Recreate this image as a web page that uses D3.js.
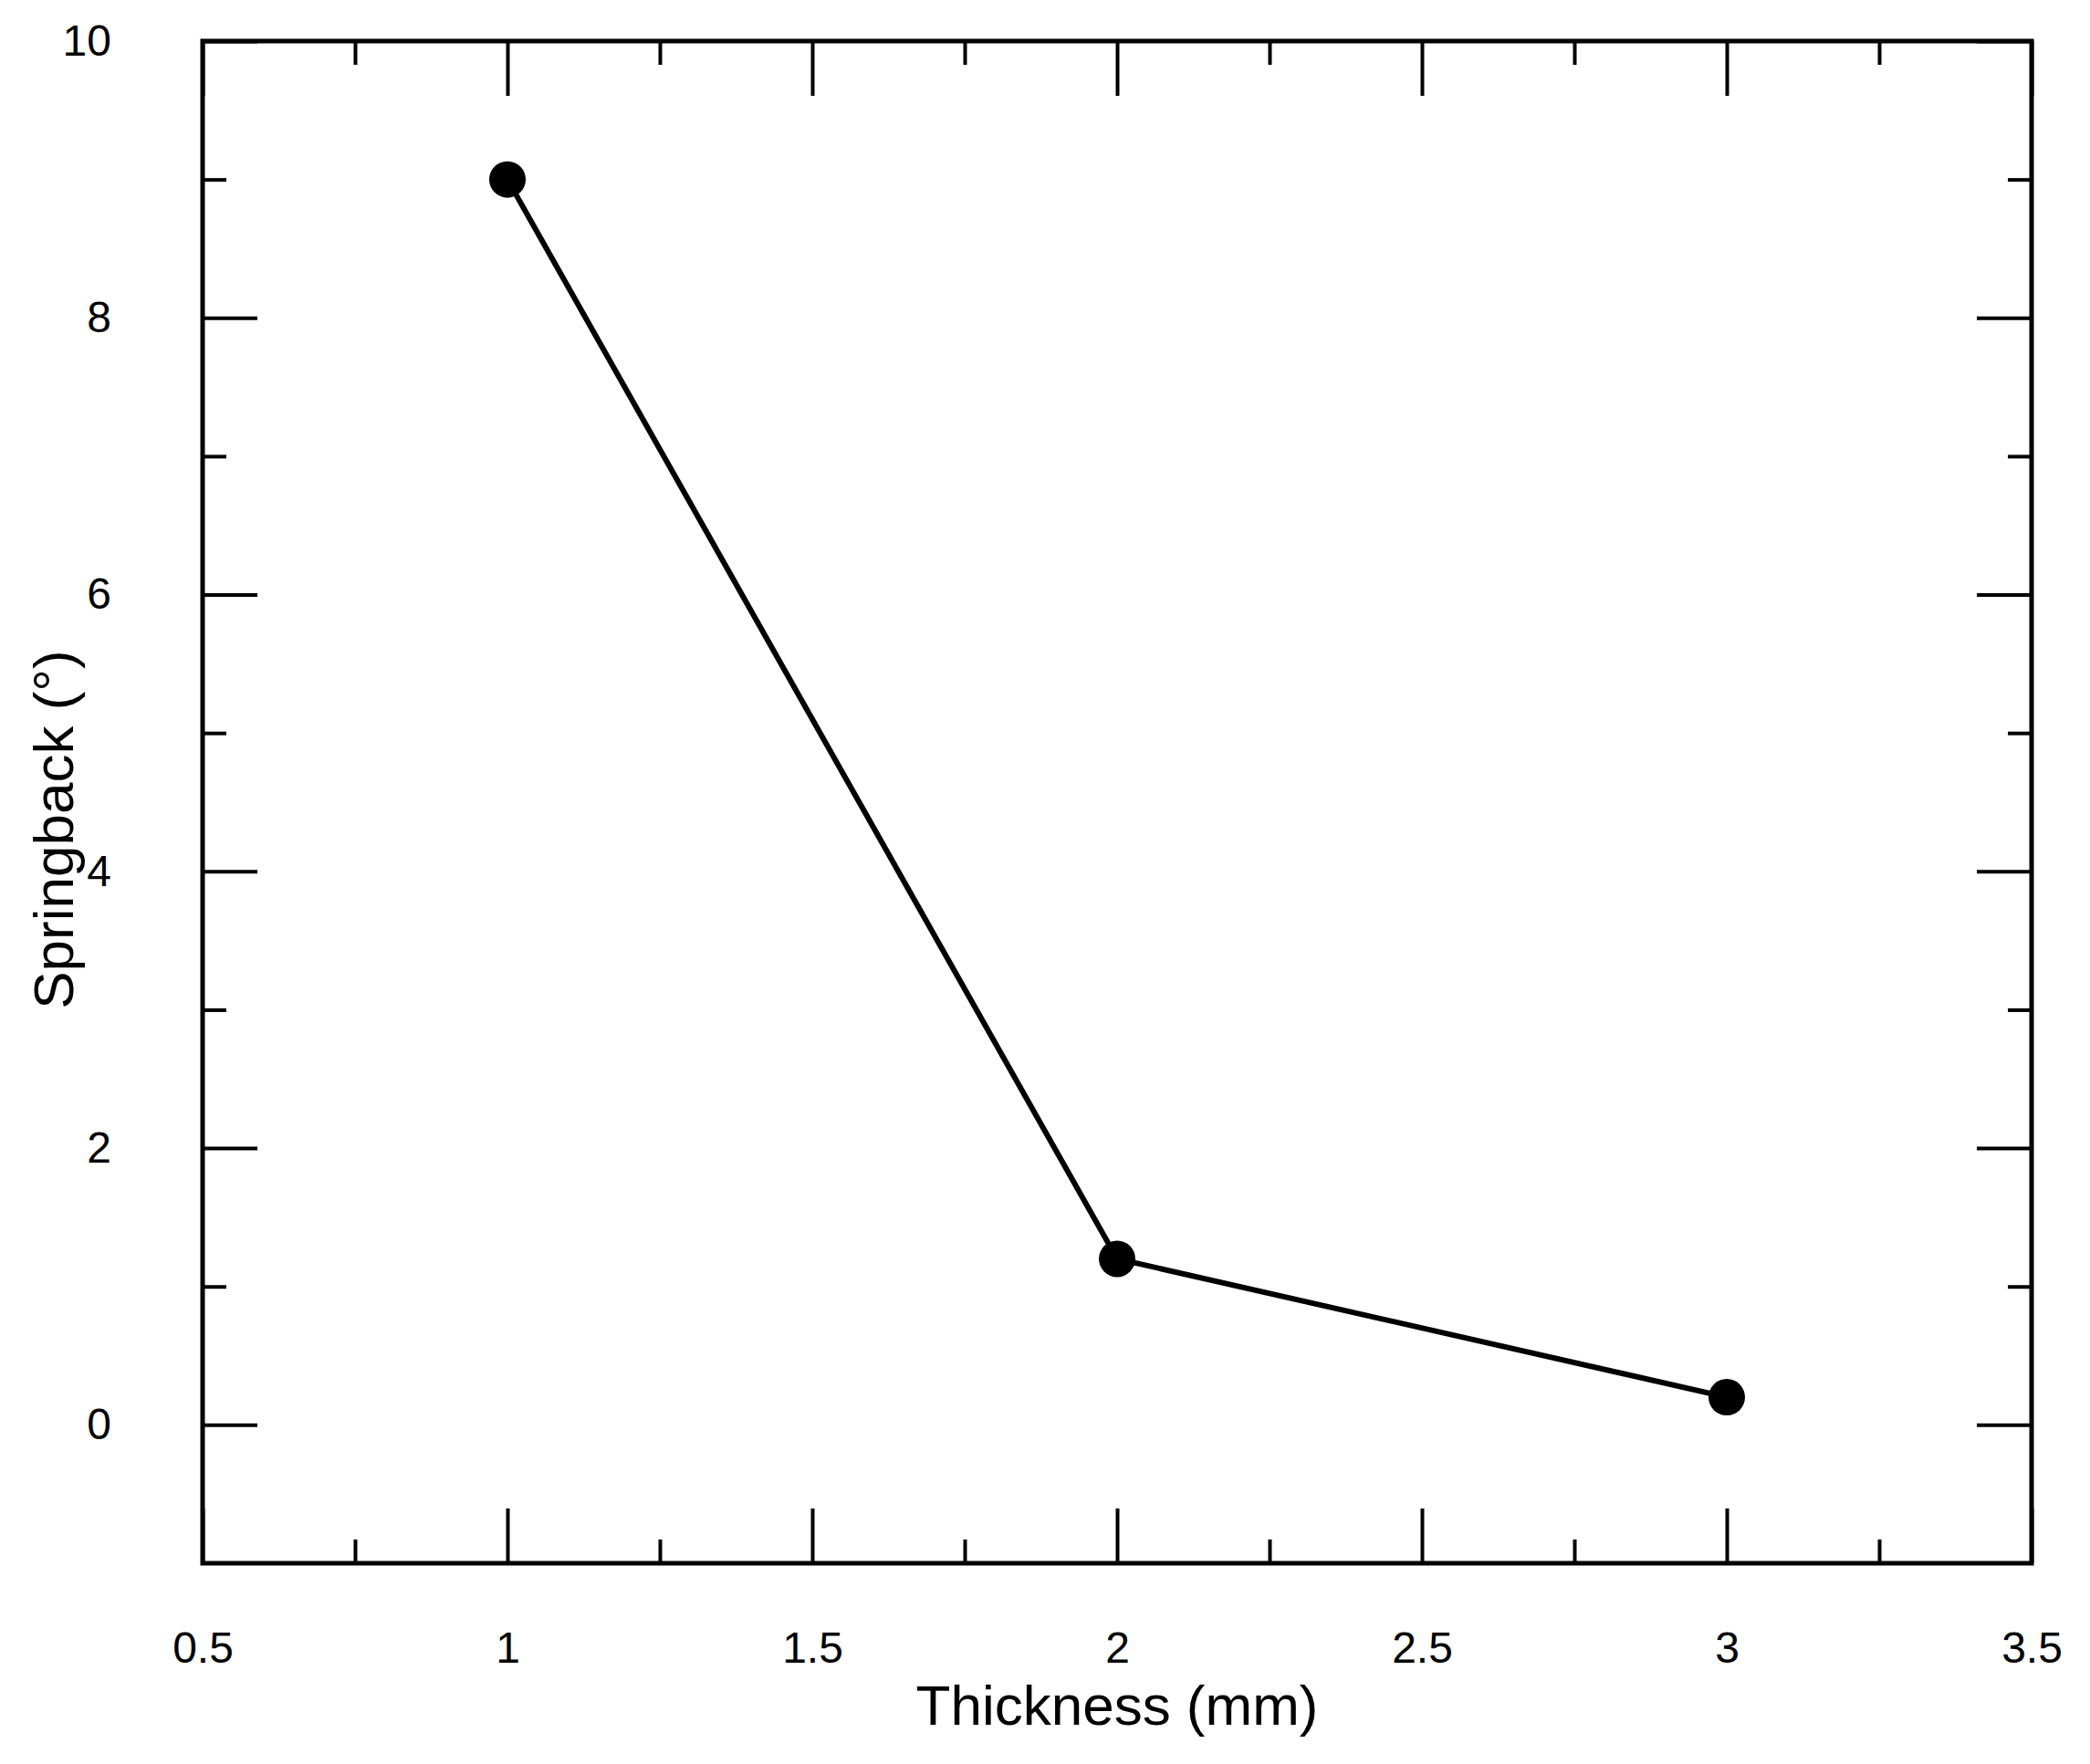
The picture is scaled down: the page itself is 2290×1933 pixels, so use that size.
<!DOCTYPE html>
<html>
<head>
<meta charset="utf-8">
<script src="https://cdn.jsdelivr.net/npm/d3@7"></script>
<style>
body { margin: 0; background: #fff; }
text { font-family: "Liberation Sans", Arial, sans-serif; fill: #000; }
</style>
</head>
<body>
<svg id="chart" width="2290" height="1933"></svg>
<script>
const thickness = [1, 2, 3];
const springback = [9, 1.2, 0.2];
const xTickLabels = [0.5, 1, 1.5, 2, 2.5, 3, 3.5];
const yTickLabels = [0, 2, 4, 6, 8, 10];

const margin = { top: 45, right: 2290 - 2226, bottom: 1933 - 1713, left: 222 };
const width = 2290 - margin.left - margin.right;
const height = 1933 - margin.top - margin.bottom;

const svg = d3.select('#chart');
const g = svg.append('g').attr('transform', `translate(${margin.left},${margin.top})`);

const x = d3.scaleLinear().domain([0.5, 3.5]).range([0, width]);
const y = d3.scaleLinear().domain([-1, 10]).range([height, 0]);

const fmt = d => String(d);
const xMinor = d3.range(0.75, 3.5, 0.5);
const yMinor = d3.range(1, 10, 2).concat([-1]).filter(v => v > -1);

const styleAxis = sel => {
    sel.select('.domain').remove();
    sel.selectAll('line').attr('stroke', '#000').attr('stroke-width', 4);
    sel.selectAll('text').style('font-size', '48px');
};

// bottom axis: ticks pointing inward
g.append('g').attr('transform', `translate(0,${height})`)
    .call(d3.axisBottom(x).tickValues(xTickLabels).tickFormat(fmt).tickSizeInner(-60).tickSizeOuter(0).tickPadding(75))
    .call(styleAxis);
g.append('g').attr('transform', `translate(0,${height})`)
    .call(d3.axisBottom(x).tickValues(xMinor).tickFormat('').tickSizeInner(-26).tickSizeOuter(0))
    .call(styleAxis);
// top axis
g.append('g')
    .call(d3.axisTop(x).tickValues(xTickLabels).tickFormat('').tickSizeInner(-60).tickSizeOuter(0))
    .call(styleAxis);
g.append('g')
    .call(d3.axisTop(x).tickValues(xMinor).tickFormat('').tickSizeInner(-26).tickSizeOuter(0))
    .call(styleAxis);
// left axis
g.append('g')
    .call(d3.axisLeft(y).tickValues(yTickLabels).tickFormat(fmt).tickSizeInner(-60).tickSizeOuter(0).tickPadding(100))
    .call(styleAxis);
g.append('g')
    .call(d3.axisLeft(y).tickValues(yMinor).tickFormat('').tickSizeInner(-26).tickSizeOuter(0))
    .call(styleAxis);
// right axis
g.append('g').attr('transform', `translate(${width},0)`)
    .call(d3.axisRight(y).tickValues(yTickLabels).tickFormat('').tickSizeInner(-60).tickSizeOuter(0))
    .call(styleAxis);
g.append('g').attr('transform', `translate(${width},0)`)
    .call(d3.axisRight(y).tickValues(yMinor).tickFormat('').tickSizeInner(-26).tickSizeOuter(0))
    .call(styleAxis);

// frame
g.append('rect')
    .attr('x', 0).attr('y', 0).attr('width', width).attr('height', height)
    .attr('fill', 'none').attr('stroke', '#000').attr('stroke-width', 5);

const pts = thickness.map((t, i) => ({ t, s: springback[i] }));

g.append('path')
    .datum(pts)
    .attr('fill', 'none')
    .attr('stroke', '#000')
    .attr('stroke-width', 6)
    .attr('d', d3.line().x(d => x(d.t)).y(d => y(d.s)));

g.selectAll('circle.pt')
    .data(pts)
    .enter()
    .append('circle')
    .attr('class', 'pt')
    .attr('cx', d => x(d.t))
    .attr('cy', d => y(d.s))
    .attr('r', 20)
    .attr('fill', '#000');

// axis titles
svg.append('text')
    .attr('x', margin.left + width / 2)
    .attr('y', 1890)
    .attr('text-anchor', 'middle')
    .style('font-size', '62px')
    .text('Thickness (mm)');

svg.append('text')
    .attr('transform', `translate(80,${margin.top + height / 2 + 30}) rotate(-90)`)
    .attr('text-anchor', 'middle')
    .style('font-size', '62px')
    .text('Springback (°)');
</script>
</body>
</html>
